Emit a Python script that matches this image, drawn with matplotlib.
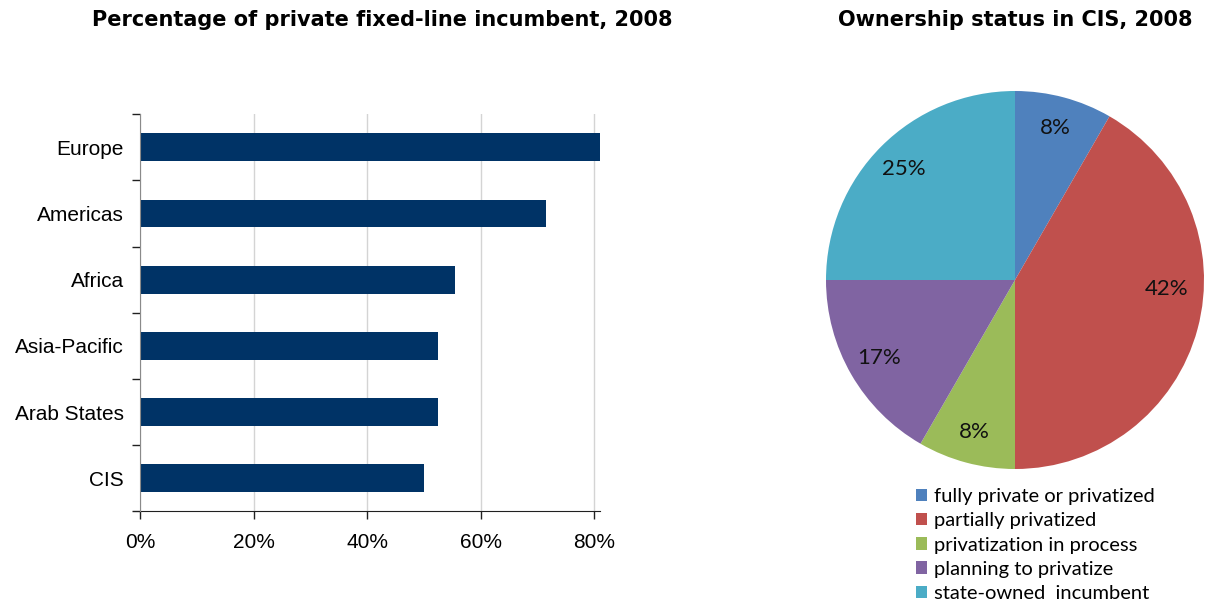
import matplotlib.pyplot as plt
from matplotlib.patches import Patch
from matplotlib.ticker import PercentFormatter, FixedLocator

# share of private fixed-line incumbents by region, 2008
regions = ['Europe', 'Americas', 'Africa', 'Asia-Pacific', 'Arab States', 'CIS']
private_share = [0.81, 0.715, 0.555, 0.525, 0.525, 0.50]

# CIS ownership status (number of countries)
status_labels = ['fully private or privatized', 'partially privatized',
                 'privatization in process', 'planning to privatize',
                 'state-owned  incumbent']
status_counts = [1, 5, 1, 2, 3]
status_colors = ['#4F81BD', '#C0504D', '#9BBB59', '#8064A2', '#4BACC6']

W, H = 1209, 606
fig = plt.figure(figsize=(W / 100, H / 100), dpi=100)
fig.patch.set_facecolor('white')

# ---- bar chart ----
ax = fig.add_axes([140 / W, (H - 511.3) / H, 460 / W, 397 / H])
ypos = list(range(len(regions)))
ax.barh(ypos, private_share, height=0.42, color='#003366', zorder=3)
ax.set_xlim(0, 0.81)
ax.set_ylim(len(regions) - 0.5, -0.5)

ax.set_xticks([0, 0.2, 0.4, 0.6, 0.8])
ax.xaxis.set_major_formatter(PercentFormatter(1.0, decimals=0))
ax.set_yticks(ypos)
ax.set_yticklabels(regions)
ax.yaxis.set_minor_locator(FixedLocator([i - 0.5 for i in range(len(regions) + 1)]))

ax.tick_params(axis='y', which='major', length=0, pad=11.5, labelsize=15,
               labelfontfamily='Liberation Sans')
ax.tick_params(axis='y', which='minor', length=5.5, width=1, color='#202020',
               direction='out')
ax.tick_params(axis='x', length=5.5, width=1, color='#202020', direction='out',
               pad=10, labelsize=15, labelfontfamily='Liberation Sans')

ax.grid(axis='x', color='#d4d4d4', linewidth=1, zorder=0)
for side in ['top', 'right']:
    ax.spines[side].set_visible(False)
ax.spines['left'].set_color('#8a8a8a')
ax.spines['bottom'].set_color('#202020')
ax.spines['left'].set_zorder(4)

fig.text(382 / W, 1 - 20 / H, 'Percentage of private fixed-line incumbent, 2008',
         ha='center', va='center', fontsize=15, fontweight='bold',
         family='DejaVu Sans')

# ---- pie chart ----
pax = fig.add_axes([826 / W, (H - 469) / H, 378 / W, 378 / H])
wedges, texts, autotexts = pax.pie(
    status_counts, colors=status_colors, startangle=90, counterclock=False,
    autopct='%.0f%%', pctdistance=0.83,
    wedgeprops={'linewidth': 0},
    textprops={'fontsize': 16, 'family': 'Lato', 'color': '#111111'})
# the big wedge's label sits a bit higher than its mid-angle
autotexts[1].set_position((0.80, -0.05))
pax.set_xlim(-1, 1)
pax.set_ylim(-1, 1)
pax.set_aspect('equal')

fig.text(1015 / W, 1 - 20 / H, 'Ownership status in CIS, 2008',
         ha='center', va='center', fontsize=15, fontweight='bold',
         family='DejaVu Sans')

handles = [Patch(facecolor=c, edgecolor='none') for c in status_colors]
fig.legend(handles, status_labels, loc='upper left',
           bbox_to_anchor=(916 / W, 1 - 488 / H), frameon=False,
           prop={'family': 'Lato', 'size': 14.5},
           handlelength=0.57, handleheight=0.57, handletextpad=0.3,
           labelspacing=0.36, borderpad=0, borderaxespad=0)

fig.savefig('out.png', dpi=100)
